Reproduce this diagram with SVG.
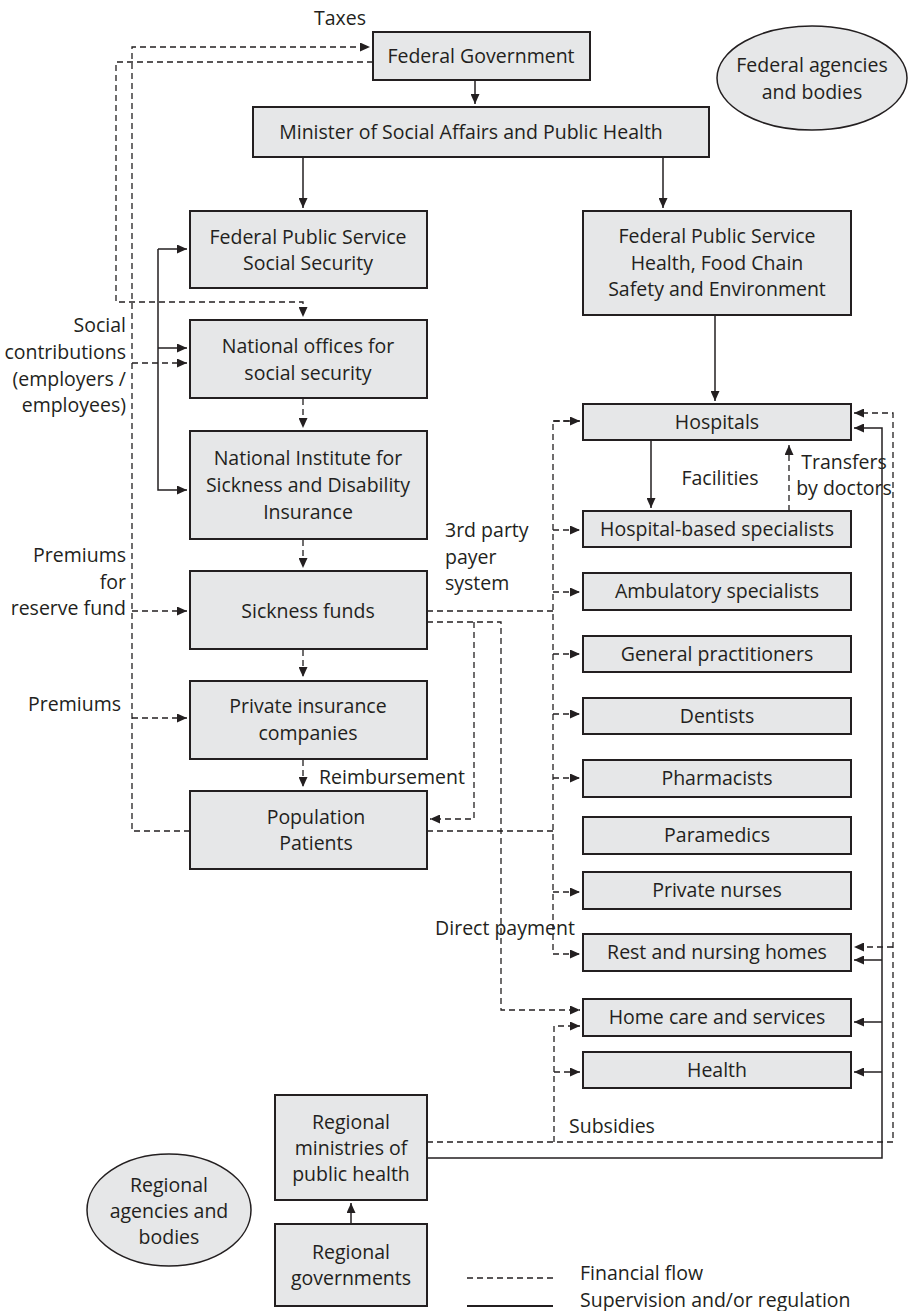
<svg xmlns="http://www.w3.org/2000/svg" width="908" height="1311" viewBox="0 0 908 1311">
<defs>
<style>
.box{fill:#e6e7e8;stroke:#231f20;stroke-width:2}
.t{font-family:"Open Sans","Noto Sans",sans-serif;font-size:19.5px;fill:#231f20;text-anchor:middle}
.l{font-family:"Open Sans","Noto Sans",sans-serif;font-size:19.5px;fill:#231f20}
.r{font-family:"Open Sans","Noto Sans",sans-serif;font-size:19.5px;fill:#231f20;text-anchor:end}
.d{fill:none;stroke:#231f20;stroke-width:1.3;stroke-dasharray:6 4}
.s{fill:none;stroke:#231f20;stroke-width:1.5}
</style>
<marker id="a" markerUnits="userSpaceOnUse" markerWidth="10" markerHeight="9" refX="10" refY="4.5" orient="auto">
<path d="M0,0 L10,4.5 L0,9 z" fill="#231f20"/>
</marker>
</defs>
<rect width="908" height="1311" fill="#fff"/>

<g id="connectors">
<path class="s" d="M475,80 V104" marker-end="url(#a)"/>
<path class="s" d="M303,157 V208" marker-end="url(#a)"/>
<path class="s" d="M663,157 V208" marker-end="url(#a)"/>
<path class="s" d="M715,315 V401" marker-end="url(#a)"/>
<path class="s" d="M651,440 V508" marker-end="url(#a)"/>
<path class="s" d="M351,1224 V1203" marker-end="url(#a)"/>
<path class="s" d="M158,249 H187" marker-end="url(#a)"/>
<path class="s" d="M158,249 V490 H187" marker-end="url(#a)"/>
<path class="s" d="M158,348 H187" marker-end="url(#a)"/>
<path class="s" d="M427,1158 H882 V428 H854" marker-end="url(#a)"/>
<path class="s" d="M882,960 H854" marker-end="url(#a)"/>
<path class="s" d="M882,1022 H854" marker-end="url(#a)"/>
<path class="s" d="M882,1072 H854" marker-end="url(#a)"/>
<path class="d" d="M190,831 H132 V47 H370" marker-end="url(#a)"/>
<path class="d" d="M373,62 H116 V302 H303 V317" marker-end="url(#a)"/>
<path class="d" d="M132,363 H187" marker-end="url(#a)"/>
<path class="d" d="M132,611 H187" marker-end="url(#a)"/>
<path class="d" d="M132,718 H187" marker-end="url(#a)"/>
<path class="d" d="M303,399 V428" marker-end="url(#a)"/>
<path class="d" d="M303,540 V568" marker-end="url(#a)"/>
<path class="d" d="M303,650 V677" marker-end="url(#a)"/>
<path class="d" d="M303,760 V787" marker-end="url(#a)"/>
<path class="d" d="M427,611 H553"/>
<path class="d" d="M427,831 H553"/>
<path class="d" d="M580,421 H553 V954 H580" marker-end="url(#a)"/>
<path class="d" d="M553,421 H580" marker-end="url(#a)"/>
<path class="d" d="M553,530 H580" marker-end="url(#a)"/>
<path class="d" d="M553,592 H580" marker-end="url(#a)"/>
<path class="d" d="M553,654 H580" marker-end="url(#a)"/>
<path class="d" d="M553,714 H580" marker-end="url(#a)"/>
<path class="d" d="M553,778 H580" marker-end="url(#a)"/>
<path class="d" d="M553,892 H580" marker-end="url(#a)"/>
<path class="d" d="M427,622 H501 V1010 H580" marker-end="url(#a)"/>
<path class="d" d="M474,622 V819 H430" marker-end="url(#a)"/>
<path class="d" d="M789,511 V445" marker-end="url(#a)"/>
<path class="d" d="M427,1142 H893 V413 H854" marker-end="url(#a)"/>
<path class="d" d="M893,947 H854" marker-end="url(#a)"/>
<path class="d" d="M554,1142 V1026 H580" marker-end="url(#a)"/>
<path class="d" d="M554,1072 H580" marker-end="url(#a)"/>
</g>

<g id="labels">
<text class="t" x="340" y="25">Taxes</text>
<text class="r" x="126" y="332">Social</text>
<text class="r" x="126" y="359">contributions</text>
<text class="r" x="126" y="386">(employers /</text>
<text class="r" x="126" y="412">employees)</text>
<text class="r" x="126" y="562">Premiums</text>
<text class="r" x="126" y="589">for</text>
<text class="r" x="126" y="615">reserve fund</text>
<text class="r" x="121" y="711">Premiums</text>
<text class="l" x="319" y="784">Reimbursement</text>
<text class="l" x="445" y="537">3rd party</text>
<text class="l" x="445" y="564">payer</text>
<text class="l" x="445" y="590">system</text>
<text class="t" x="720" y="485">Facilities</text>
<text class="t" x="844" y="469">Transfers</text>
<text class="t" x="844" y="495">by doctors</text>
<text class="t" x="505" y="935">Direct payment</text>
<text class="l" x="569" y="1133">Subsidies</text>
</g>

<g id="federal-government"><rect class="box" x="373" y="32" width="217" height="48"/><text class="t" x="481" y="63">Federal Government</text></g>
<g id="federal-agencies"><ellipse cx="812" cy="78" rx="95" ry="52" class="box" style="stroke-width:1.5"/><text class="t" x="812" y="72">Federal agencies</text><text class="t" x="812" y="99">and bodies</text></g>
<g id="minister"><rect class="box" x="253" y="107" width="456" height="50"/><text class="t" x="471" y="139">Minister of Social Affairs and Public Health</text></g>
<g id="fps-social-security"><rect class="box" x="190" y="211" width="237" height="77"/><text class="t" x="308" y="244">Federal Public Service</text><text class="t" x="308" y="270">Social Security</text></g>
<g id="fps-health"><rect class="box" x="583" y="211" width="268" height="104"/><text class="t" x="717" y="243">Federal Public Service</text><text class="t" x="717" y="270">Health, Food Chain</text><text class="t" x="717" y="296">Safety and Environment</text></g>
<g id="national-offices"><rect class="box" x="190" y="320" width="237" height="78"/><text class="t" x="308" y="353">National offices for</text><text class="t" x="308" y="380">social security</text></g>
<g id="nihdi"><rect class="box" x="190" y="431" width="237" height="108"/><text class="t" x="308" y="465">National Institute for</text><text class="t" x="308" y="492">Sickness and Disability</text><text class="t" x="308" y="519">Insurance</text></g>
<g id="sickness-funds"><rect class="box" x="190" y="571" width="237" height="78"/><text class="t" x="308" y="618">Sickness funds</text></g>
<g id="private-insurance"><rect class="box" x="190" y="681" width="237" height="78"/><text class="t" x="308" y="713">Private insurance</text><text class="t" x="308" y="740">companies</text></g>
<g id="population"><rect class="box" x="190" y="791" width="237" height="78"/><text class="t" x="316" y="824">Population</text><text class="t" x="316" y="850">Patients</text></g>

<g id="hospitals"><rect class="box" x="583" y="404" width="268" height="36"/><text class="t" x="717" y="429">Hospitals</text></g>
<g id="hospital-specialists"><rect class="box" x="583" y="511" width="268" height="36"/><text class="t" x="717" y="536">Hospital-based specialists</text></g>
<g id="ambulatory-specialists"><rect class="box" x="583" y="573" width="268" height="37"/><text class="t" x="717" y="598">Ambulatory specialists</text></g>
<g id="general-practitioners"><rect class="box" x="583" y="636" width="268" height="36"/><text class="t" x="717" y="661">General practitioners</text></g>
<g id="dentists"><rect class="box" x="583" y="698" width="268" height="36"/><text class="t" x="717" y="723">Dentists</text></g>
<g id="pharmacists"><rect class="box" x="583" y="760" width="268" height="37"/><text class="t" x="717" y="785">Pharmacists</text></g>
<g id="paramedics"><rect class="box" x="583" y="817" width="268" height="37"/><text class="t" x="717" y="842">Paramedics</text></g>
<g id="private-nurses"><rect class="box" x="583" y="872" width="268" height="37"/><text class="t" x="717" y="897">Private nurses</text></g>
<g id="rest-nursing-homes"><rect class="box" x="583" y="934" width="268" height="37"/><text class="t" x="717" y="959">Rest and nursing homes</text></g>
<g id="home-care"><rect class="box" x="583" y="999" width="268" height="37"/><text class="t" x="717" y="1024">Home care and services</text></g>
<g id="health"><rect class="box" x="583" y="1052" width="268" height="36"/><text class="t" x="717" y="1077">Health</text></g>

<g id="regional-ministries"><rect class="box" x="275" y="1095" width="152" height="105"/><text class="t" x="351" y="1129">Regional</text><text class="t" x="351" y="1155">ministries of</text><text class="t" x="351" y="1181">public health</text></g>
<g id="regional-governments"><rect class="box" x="275" y="1224" width="152" height="82"/><text class="t" x="351" y="1259">Regional</text><text class="t" x="351" y="1285">governments</text></g>
<g id="regional-agencies"><ellipse cx="169" cy="1210" rx="82" ry="56" class="box" style="stroke-width:1.5"/><text class="t" x="169" y="1192">Regional</text><text class="t" x="169" y="1218">agencies and</text><text class="t" x="169" y="1244">bodies</text></g>

<g id="legend">
<line class="d" x1="467" y1="1278" x2="553" y2="1278"/>
<line class="s" x1="467" y1="1306" x2="553" y2="1306" style="stroke-width:2"/>
<text class="l" x="580" y="1280">Financial flow</text>
<text class="l" x="580" y="1307">Supervision and/or regulation</text>
</g>
</svg>
